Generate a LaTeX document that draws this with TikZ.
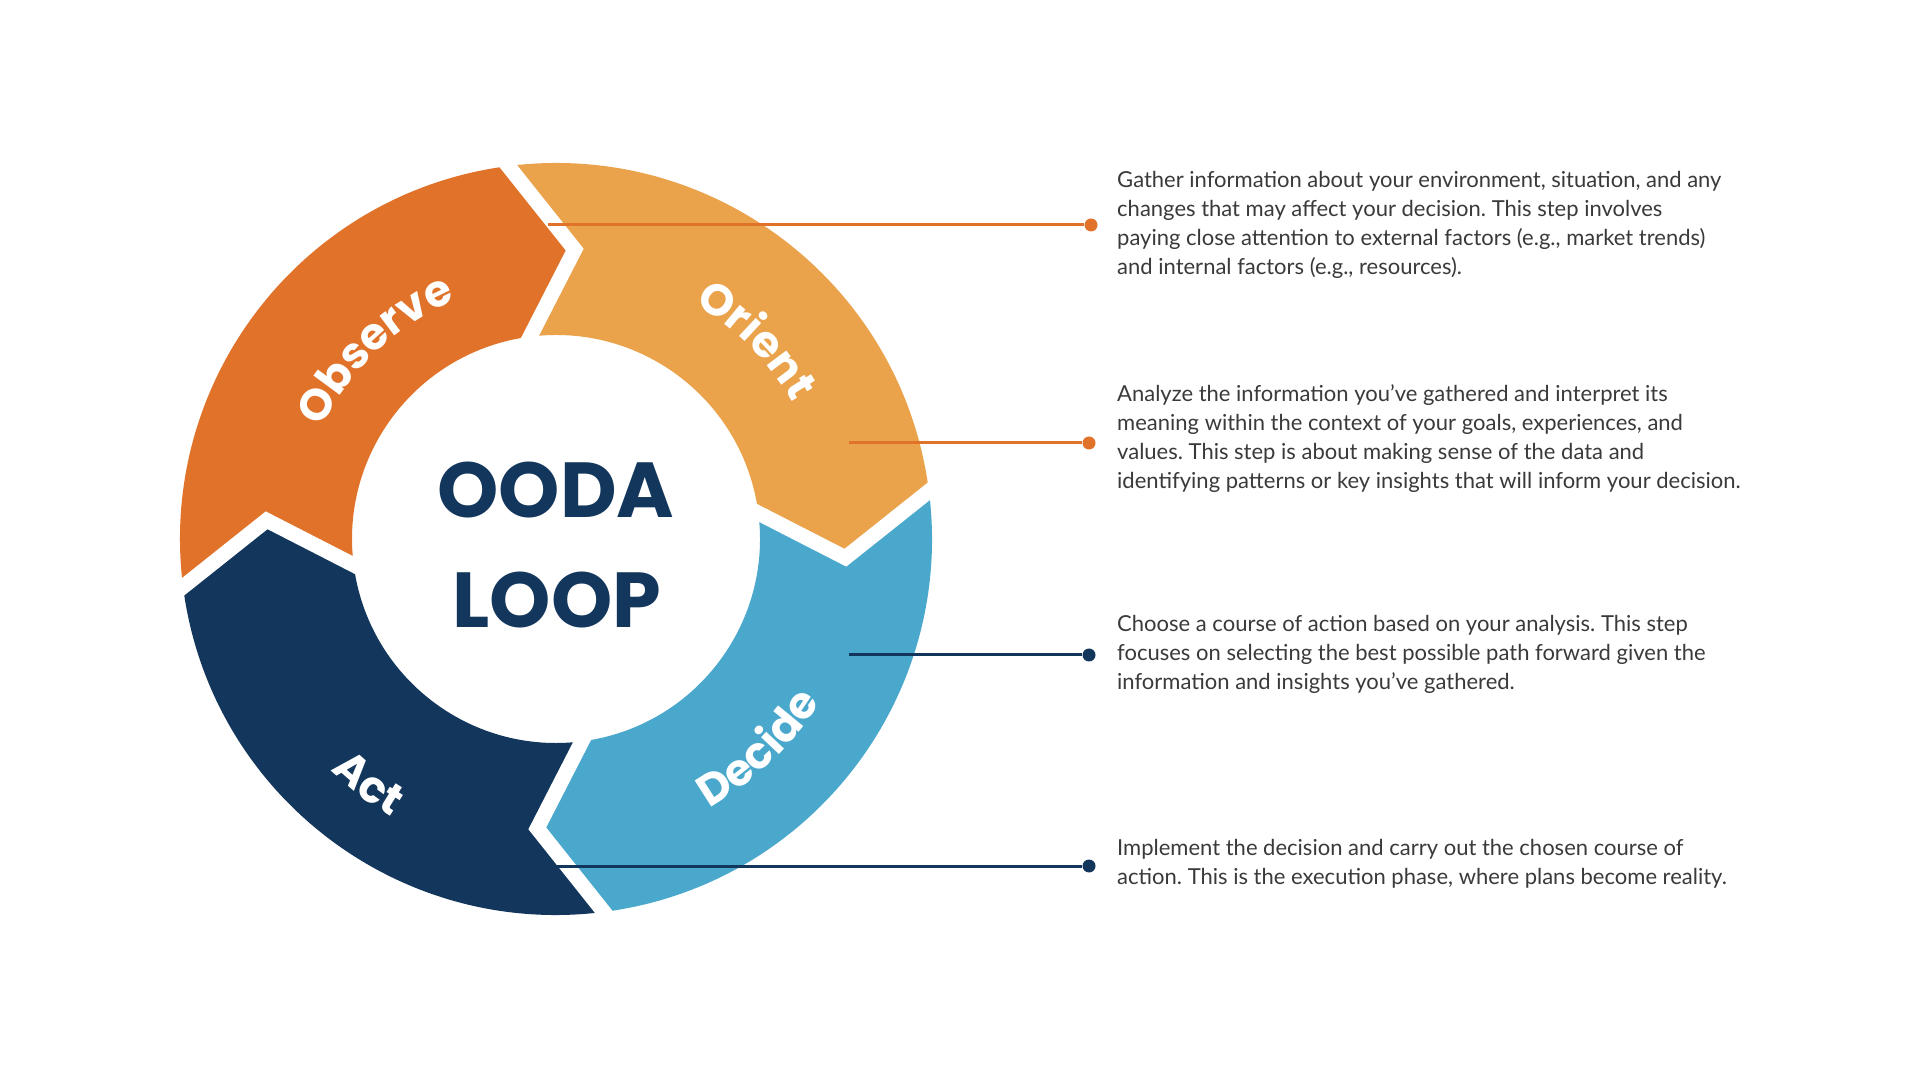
\documentclass[tikz,border=0pt]{standalone}
\usepackage{fontspec}
\usetikzlibrary{calc,decorations.text}
\IfFontExistsTF{Poppins}{\newfontfamily\headfont{Poppins}}{\newfontfamily\headfont{TeX Gyre Heros}}
\IfFontExistsTF{Lato}{\newfontfamily\bodyfont{Lato}}{\newfontfamily\bodyfont{Carlito}}
\newcommand{\lblfont}{\headfont\bfseries\fontsize{44}{44}\selectfont}
\definecolor{cobs}{HTML}{E07229}
\definecolor{cori}{HTML}{EAA24B}
\definecolor{cdec}{HTML}{4AA8CD}
\definecolor{cact}{HTML}{12365C}
\definecolor{txt}{HTML}{3A3A3A}
\frenchspacing
\begin{document}
\begin{tikzpicture}[x=1pt,y=1pt,
  gapline/.style={draw=white,line width=15pt,line join=miter},
  conn/.style={line width=3pt},
  dotn/.style={circle,inner sep=0pt,minimum size=13pt},
  desc/.style={anchor=west,align=left,inner sep=0pt,text=txt,font=\bodyfont\frenchspacing\fontsize{22}{29}\selectfont},
  titletext/.style={inner sep=0pt,text=cact,font=\headfont\bfseries\fontsize{78}{78}\selectfont},
  lbl/.style={decorate,decoration={text along path,text align=center,text color=white}}
]
\fill[white] (0,0) rectangle (1920,1080);
\useasboundingbox (0,0) rectangle (1920,1080);
\begin{scope}[shift={(556,541)}]
  % Observe
  \fill[cobs] (187.3:376) arc[start angle=187.3,end angle=97.3,radius=376] -- (86.3:290) -- (97.3:204)
     arc[start angle=97.3,end angle=187.3,radius=204] -- (176.3:290) -- cycle;
  % Orient
  \fill[cori] (97.3:376) arc[start angle=97.3,end angle=7.3,radius=376] -- (-3.7:290) -- (7.3:204)
     arc[start angle=7.3,end angle=97.3,radius=204] -- (86.3:290) -- cycle;
  % Decide
  \fill[cdec] (7.3:376) arc[start angle=7.3,end angle=-82.7,radius=376] -- (-93.7:290) -- (-82.7:204)
     arc[start angle=-82.7,end angle=7.3,radius=204] -- (-3.7:290) -- cycle;
  % Act
  \fill[cact] (-82.7:376) arc[start angle=-82.7,end angle=-172.7,radius=376] -- (-183.7:290) -- (-172.7:204)
     arc[start angle=-172.7,end angle=-82.7,radius=204] -- (-93.7:290) -- cycle;
  \foreach \ang [count=\i] in {97.3,7.3,-82.7,-172.7}{
    \coordinate (bo\i) at (\ang:376);
    \coordinate (bt\i) at ({\ang-11}:290);
    \coordinate (bi\i) at (\ang:204);
  }
  % labels
  \path[lbl,decoration={text={|\lblfont|Observe}}] (163.7:259) arc[start angle=163.7,end angle=103.7,radius=259];
  \path[lbl,decoration={text={|\lblfont|Orient}}] (74.8:273) arc[start angle=74.8,end angle=14.8,radius=273];
  \path[lbl,decoration={text={|\lblfont|Decide}}] (-76:310) arc[start angle=-76,end angle=-16,radius=310];
  \path[lbl,decoration={text={|\lblfont|Act}}] (-157.4:323) arc[start angle=-157.4,end angle=-97.4,radius=323];
\end{scope}
\foreach \i in {1,...,4}{
  \draw[gapline] ($(bt\i)!1.2!(bo\i)$) -- (bt\i) -- ($(bt\i)!1.2!(bi\i)$);
}
% title
\node[titletext] (ooda) at (556,590) {OODA};
\node[titletext] (loop) at (557,479.5) {LOOP};
% connectors
\coordinate (c1) at (548,855);
\coordinate (c2) at (849,637);
\coordinate (c3) at (849,425);
\coordinate (c4) at (553,214);
\node[dotn,fill=cobs] (d1) at (1091,855) {};
\node[dotn,fill=cobs] (d2) at (1089,637) {};
\node[dotn,fill=cact] (d3) at (1089,425) {};
\node[dotn,fill=cact] (d4) at (1089,214) {};
\draw[conn,draw=cobs] (c1) -- (d1);
\draw[conn,draw=cobs] (c2) -- (d2);
\draw[conn,draw=cact] (c3) -- (d3);
\draw[conn,draw=cact] (c4) -- (d4);
% descriptions
\node[desc] (t1) at (1117,855) {Gather information about your environment, situation, and any\\changes that may affect your decision. This step involves\\paying close attention to external factors (e.g., market trends)\\and internal factors (e.g., resources).};
\node[desc] (t2) at (1117,641) {Analyze the information you’ve gathered and interpret its\\meaning within the context of your goals, experiences, and\\values. This step is about making sense of the data and\\identifying patterns or key insights that will inform your decision.};
\node[desc] (t3) at (1117,425.5) {Choose a course of action based on your analysis. This step\\focuses on selecting the best possible path forward given the\\information and insights you’ve gathered.};
\node[desc] (t4) at (1117,216.7) {Implement the decision and carry out the chosen course of\\action. This is the execution phase, where plans become reality.};
\end{tikzpicture}
\end{document}
